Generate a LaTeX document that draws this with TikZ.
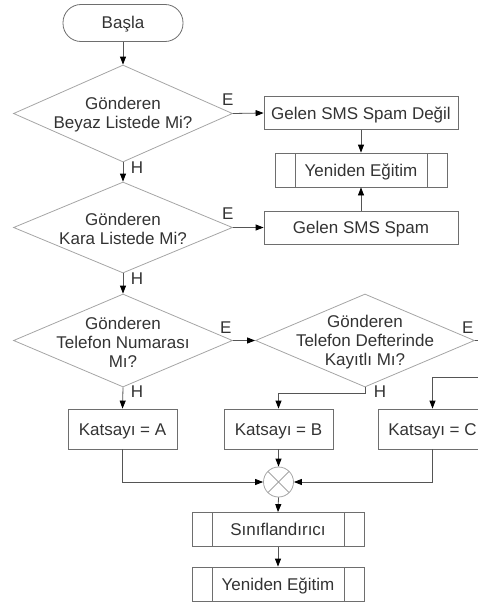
\documentclass[tikz,border=0pt]{standalone}
\usepackage{fontspec}
\setmainfont{Liberation Sans}
\usetikzlibrary{shapes.geometric,arrows.meta,calc}

\definecolor{txtc}{RGB}{51,51,51}
\definecolor{boxc}{RGB}{110,110,110}
\definecolor{diac}{RGB}{165,165,165}
\definecolor{linec}{RGB}{85,85,85}

\begin{document}
\begin{tikzpicture}[x=1pt,y=-1pt,
  every node/.style={font=\fontsize{17}{19}\selectfont, text=txtc},
  base/.style={draw=boxc, line width=0.8pt, inner sep=0pt,
    text height=15pt, text depth=3pt},
  terminal/.style={base, rectangle, rounded corners=18pt,
    minimum width=120pt, minimum height=37pt},
  procbox/.style={base, rectangle, minimum width=#1, minimum height=33pt},
  coef/.style={base, rectangle, minimum width=109pt, minimum height=40pt},
  subr/.style={base, rectangle, minimum width=172pt, minimum height=34pt,
    path picture={
      \draw[boxc, line width=0.8pt]
        ([xshift=20pt]path picture bounding box.north west) --
        ([xshift=20pt]path picture bounding box.south west)
        ([xshift=-20pt]path picture bounding box.north east) --
        ([xshift=-20pt]path picture bounding box.south east);}},
  decision/.style={draw=diac, line width=0.8pt, diamond, inner sep=0pt,
    minimum width=219pt, minimum height=#1},
  dtxt/.style={align=center, inner sep=0pt, yshift=-1.5pt},
  junction/.style={draw=diac, line width=0.8pt, circle, inner sep=0pt,
    minimum size=30pt,
    path picture={
      \draw[diac, line width=0.8pt]
        (path picture bounding box.north west) --
        (path picture bounding box.south east)
        (path picture bounding box.north east) --
        (path picture bounding box.south west);}},
  conn/.style={draw=linec, line width=0.8pt,
    -{Triangle[length=8pt,width=6pt,black]}},
  lbl/.style={inner sep=0pt}
]
\useasboundingbox (0,0) rectangle (478,602);
\clip (0,0) rectangle (478,602);

% main column
\node[terminal] (start) at (123,23) {Başla};
\node[decision=97pt, label={[dtxt]center:Gönderen\\Beyaz Listede Mi?}]
  (d1) at (123,113.5) {};
\node[decision=91pt, label={[dtxt]center:Gönderen\\Kara Listede Mi?}]
  (d2) at (123,227.5) {};
\node[decision=93pt, label={[dtxt]center:Gönderen\\Telefon Numarası\\Mı?}]
  (d3) at (123,340.5) {};
\node[decision=93pt, label={[dtxt]center:Gönderen\\Telefon Defterinde\\Kayıtlı Mı?}]
  (d4) at (365,340.5) {};

% right column
\node[procbox=194pt] (notspam) at (361,113) {Gelen SMS Spam Değil};
\node[subr] (retrain1) at (361,170) {Yeniden Eğitim};
\node[procbox=194pt] (spam) at (361,227.5) {Gelen SMS Spam};

% coefficients
\node[coef] (ka) at (122.5,429) {Katsayı = A};
\node[coef] (kb) at (278.5,429) {Katsayı = B};
\node[coef] (kc) at (432.5,429) {Katsayı = C};

% merge and final steps
\node[junction] (sum) at (278.5,482) {};
\node[subr] (clf) at (278,529.5) {Sınıflandırıcı};
\node[subr] (retrain2) at (278,584) {Yeniden Eğitim};

\coordinate (cr) at (500,377);

% connectors
\draw[conn] (start) -- (d1);
\draw[conn] (d1.east) -- (notspam.west);
\draw[conn] (notspam) -- (retrain1);
\draw[conn] (d1.south) -- (d2.north);
\draw[conn] (d2.east) -- (spam.west);
\draw[conn] (spam) -- (retrain1);
\draw[conn] (d2.south) -- (d3.north);
\draw[conn] (d3.east) -- (d4.west);
\draw[conn] (d3.south) -- (ka.north);
\draw[conn] (d4.south) -- ++(0,6) -| (kb.north);
\draw[conn] (d4.east) -| (cr) -| (kc.north);
\draw[conn] (ka.south) |- (sum.west);
\draw[conn] (kb.south) -- (sum.north);
\draw[conn] (kc.south) |- (sum.east);
\draw[conn] (sum.south) -- (clf.north);
\draw[conn] (clf) -- (retrain2);

% branch labels
\node[lbl] (e1) at ([xshift=-5pt,yshift=14pt]d1.east) {E};
\node[lbl] (h1) at ([xshift=14pt,yshift=-5pt]d1.south) {H};
\node[lbl] (e2) at ([xshift=-5pt,yshift=14pt]d2.east) {E};
\node[lbl] (h2) at ([xshift=14pt,yshift=-5pt]d2.south) {H};
\node[lbl] (e3) at ([xshift=-7pt,yshift=13pt]d3.east) {E};
\node[lbl] (h3) at ([xshift=14pt,yshift=-4pt]d3.south) {H};
\node[lbl] (e4) at ([xshift=-7pt,yshift=13pt]d4.east) {E};
\node[lbl] (h4) at ([xshift=15pt,yshift=-4pt]d4.south) {H};
\end{tikzpicture}
\end{document}
